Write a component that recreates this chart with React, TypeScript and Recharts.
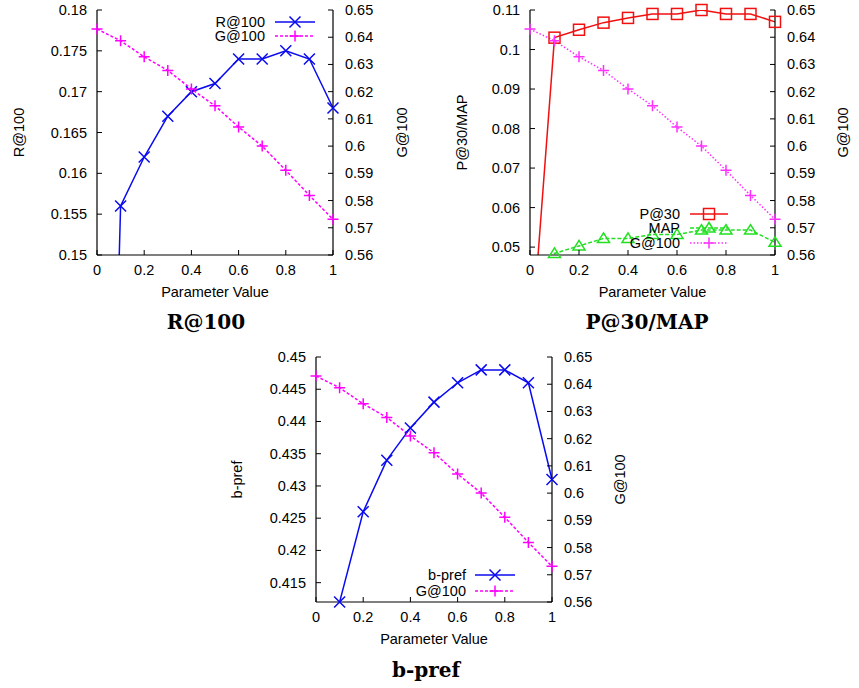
import React from 'react';
import { LineChart, Line, XAxis, YAxis, Legend } from 'recharts';

// ---------- data ----------
const paramValues = [0, 0.1, 0.2, 0.3, 0.4, 0.5, 0.6, 0.7, 0.8, 0.9, 1];
const xTicks = [0, 0.2, 0.4, 0.6, 0.8, 1];
const gAt100 = [0.643, 0.6387, 0.6328, 0.6278, 0.621, 0.6148, 0.607, 0.6, 0.5911, 0.5819, 0.5731];
const rAt100 = [0.05, 0.156, 0.162, 0.167, 0.17, 0.171, 0.174, 0.174, 0.175, 0.174, 0.168];
const pAt30 = [0.021, 0.103, 0.105, 0.1068, 0.108, 0.109, 0.109, 0.11, 0.109, 0.109, 0.107];
const mapValues = [0.02, 0.0484, 0.0503, 0.0522, 0.0522, 0.0532, 0.0532, 0.0543, 0.0543, 0.0543, 0.0512];
const bPref = [0.35, 0.412, 0.426, 0.434, 0.439, 0.443, 0.446, 0.448, 0.448, 0.446, 0.431];
const rTicks = [0.15, 0.155, 0.16, 0.165, 0.17, 0.175, 0.18];
const pTicks = [0.05, 0.06, 0.07, 0.08, 0.09, 0.1, 0.11];
const bTicks = [0.415, 0.42, 0.425, 0.43, 0.435, 0.44, 0.445, 0.45];
const gTicks = [0.56, 0.57, 0.58, 0.59, 0.6, 0.61, 0.62, 0.63, 0.64, 0.65];
const gDomain: [number, number] = [0.56, 0.65];

// ---------- styling ----------
const FONT = '"Liberation Sans", Arial, sans-serif';
const FS = 14.5;
const BLUE = '#0a0af0';
const MAGENTA = '#ff00ff';
const RED = '#f01010';
const GREEN = '#20e020';

type MarkerType = 'x' | 'plus' | 'square' | 'triangle';

type Series = {
  key: string;
  name: string;
  values: number[];
  color: string;
  dash?: string;
  marker: MarkerType;
  axis: 'L' | 'R';
};

function Glyph({ cx, cy, marker, color }: { cx: number; cy: number; marker: MarkerType; color: string }) {
  const s = 5.5;
  const common = { stroke: color, strokeWidth: 1.5, fill: 'none' };
  if (marker === 'x')
    return <path d={`M${cx - s},${cy - s}L${cx + s},${cy + s}M${cx - s},${cy + s}L${cx + s},${cy - s}`} {...common} />;
  if (marker === 'plus')
    return <path d={`M${cx - s},${cy}L${cx + s},${cy}M${cx},${cy - s}L${cx},${cy + s}`} {...common} />;
  if (marker === 'square')
    return <rect x={cx - s} y={cy - s} width={2 * s} height={2 * s} {...common} />;
  return <path d={`M${cx},${cy - 5.5}L${cx + 6},${cy + 4}L${cx - 6},${cy + 4}Z`} {...common} />;
}

const markerDot = (marker: MarkerType, color: string) => (props: any) => {
  const { cx, cy, index } = props;
  if (cx == null || cy == null || !isFinite(cx) || !isFinite(cy)) return <g key={`m-${index}`} />;
  return (
    <g key={`m-${index}`}>
      <Glyph cx={cx} cy={cy} marker={marker} color={color} />
    </g>
  );
};

const fmt = (v: number) => String(v);

const tickFn = (side: 'left' | 'right' | 'bottom' | 'top') => (props: any) => {
  const { x, y, payload, index } = props;
  const L = 5;
  const textStyle = { fontFamily: FONT, fontSize: FS, fill: '#000' };
  if (side === 'left')
    return (
      <g key={`t-${index}`}>
        <line x1={x} x2={x + L} y1={y} y2={y} stroke="#000" strokeWidth={1} />
        <text x={x - 10} y={y} textAnchor="end" dominantBaseline="central" style={textStyle}>{fmt(payload.value)}</text>
      </g>
    );
  if (side === 'right')
    return (
      <g key={`t-${index}`}>
        <line x1={x} x2={x - L} y1={y} y2={y} stroke="#000" strokeWidth={1} />
        <text x={x + 12} y={y} textAnchor="start" dominantBaseline="central" style={textStyle}>{fmt(payload.value)}</text>
      </g>
    );
  if (side === 'bottom')
    return (
      <g key={`t-${index}`}>
        <line x1={x} x2={x} y1={y} y2={y - L} stroke="#000" strokeWidth={1} />
        <text x={x} y={y + 15} textAnchor="middle" dominantBaseline="central" style={textStyle}>{fmt(payload.value)}</text>
      </g>
    );
  return (
    <g key={`t-${index}`}>
      <line x1={x} x2={x} y1={y} y2={y + L} stroke="#000" strokeWidth={1} />
    </g>
  );
};

type ChartCfg = {
  left: number;
  top: number;
  width: number;
  height: number;
  marginTop: number;
  marginBottom: number;
  leftWidth: number;
  rightWidth: number;
  xAxisHeight: number;
  leftDomain: [number, number];
  leftTicks: number[];
  leftLabel: string;
  leftLabelDx: number;
  rightLabelDx: number;
  series: Series[];
  legend: { textRight: number; x1: number; x2: number; rows: number[] };
  title: string;
  titleX: number;
  titleY: number;
};

const axisLine = { stroke: '#000', strokeWidth: 1.2 };

function Panel({ cfg }: { cfg: ChartCfg }) {
  const inDomain = (v: number, d: [number, number]) => v >= d[0] - 1e-9 && v <= d[1] + 1e-9;
  const rows = paramValues.map((x, i) => {
    const row: any = { x };
    cfg.series.forEach((s) => {
      const d = s.axis === 'L' ? cfg.leftDomain : gDomain;
      row[s.key] = s.values[i];
      row[s.key + '_m'] = inDomain(s.values[i], d) ? s.values[i] : null;
    });
    return row;
  });

  const legendContent = () => (
    <svg width={cfg.width} height={cfg.height} style={{ position: 'absolute', left: 0, top: 0, overflow: 'visible' }}>
      {cfg.series.map((s, i) => {
        const y = cfg.legend.rows[i];
        const mx = (cfg.legend.x1 + cfg.legend.x2) / 2;
        return (
          <g key={s.key}>
            <text x={cfg.legend.textRight} y={y} textAnchor="end" dominantBaseline="central" style={{ fontFamily: FONT, fontSize: FS, fill: '#000' }}>
              {s.name}
            </text>
            <line x1={cfg.legend.x1} x2={cfg.legend.x2} y1={y} y2={y} stroke={s.color} strokeWidth={1.5} strokeDasharray={s.dash} />
            <Glyph cx={mx} cy={y} marker={s.marker} color={s.color} />
          </g>
        );
      })}
    </svg>
  );

  return (
    <div style={{ position: 'absolute', left: cfg.left, top: cfg.top, width: cfg.width, height: cfg.height }}>
      <LineChart
        width={cfg.width}
        height={cfg.height}
        data={rows}
        margin={{ top: cfg.marginTop, right: 0, bottom: cfg.marginBottom, left: 0 }}
      >
        <XAxis
          dataKey="x"
          type="number"
          domain={[0, 1]}
          ticks={xTicks}
          interval={0}
          height={cfg.xAxisHeight}
          tickSize={0}
          tickMargin={0}
          tickLine={false}
          axisLine={axisLine}
          tick={tickFn('bottom')}
          label={(p: any) => {
            const vb = p.viewBox || {};
            return (
              <text
                x={vb.x + vb.width / 2}
                y={vb.y + 37}
                textAnchor="middle"
                dominantBaseline="central"
                style={{ fontFamily: FONT, fontSize: FS, fill: '#000' }}
              >
                Parameter Value
              </text>
            );
          }}
        />
        <XAxis
          xAxisId="top"
          dataKey="x"
          type="number"
          orientation="top"
          domain={[0, 1]}
          ticks={xTicks}
          interval={0}
          height={0}
          tickSize={0}
          tickMargin={0}
          tickLine={false}
          axisLine={axisLine}
          tick={tickFn('top')}
        />
        <YAxis
          yAxisId="L"
          orientation="left"
          type="number"
          width={cfg.leftWidth}
          domain={cfg.leftDomain}
          allowDataOverflow
          ticks={cfg.leftTicks}
          interval={0}
          tickSize={0}
          tickMargin={0}
          tickLine={false}
          axisLine={axisLine}
          tick={tickFn('left')}
          label={(p: any) => {
            const vb = p.viewBox || {};
            const cx = vb.x + cfg.leftLabelDx;
            const cy = vb.y + vb.height / 2;
            return (
              <text
                x={cx}
                y={cy}
                transform={`rotate(-90 ${cx} ${cy})`}
                textAnchor="middle"
                dominantBaseline="central"
                style={{ fontFamily: FONT, fontSize: FS, fill: '#000' }}
              >
                {cfg.leftLabel}
              </text>
            );
          }}
        />
        <YAxis yAxisId="LM" hide type="number" domain={cfg.leftDomain} />
        <YAxis
          yAxisId="R"
          orientation="right"
          type="number"
          width={cfg.rightWidth}
          domain={gDomain}
          ticks={gTicks}
          interval={0}
          tickSize={0}
          tickMargin={0}
          tickLine={false}
          axisLine={axisLine}
          tick={tickFn('right')}
          label={(p: any) => {
            const vb = p.viewBox || {};
            const cx = vb.x + cfg.rightLabelDx;
            const cy = vb.y + vb.height / 2;
            return (
              <text
                x={cx}
                y={cy}
                transform={`rotate(-90 ${cx} ${cy})`}
                textAnchor="middle"
                dominantBaseline="central"
                style={{ fontFamily: FONT, fontSize: FS, fill: '#000' }}
              >
                G@100
              </text>
            );
          }}
        />
        {cfg.series.map((s) => (
          <Line
            key={s.key}
            yAxisId={s.axis}
            dataKey={s.key}
            name={s.name}
            type="linear"
            stroke={s.color}
            strokeWidth={1.5}
            strokeDasharray={s.dash}
            dot={false}
            activeDot={false}
            isAnimationActive={false}
          />
        ))}
        {cfg.series.map((s) => (
          <Line
            key={s.key + '_m'}
            yAxisId={s.axis === 'L' ? 'LM' : 'R'}
            dataKey={s.key + '_m'}
            type="linear"
            stroke="none"
            strokeWidth={0}
            legendType="none"
            dot={markerDot(s.marker, s.color)}
            activeDot={false}
            isAnimationActive={false}
          />
        ))}
        <Legend
          verticalAlign="middle"
          align="center"
          layout="horizontal"
          wrapperStyle={{ left: 0, top: 0, width: cfg.width, height: cfg.height, pointerEvents: 'none' }}
          content={legendContent}
        />
      </LineChart>
    </div>
  );
}

const chart1: ChartCfg = {
  left: 0,
  top: 0,
  width: 430,
  height: 300,
  marginTop: 10,
  marginBottom: 0,
  leftWidth: 97,
  rightWidth: 97,
  xAxisHeight: 45,
  leftDomain: [0.15, 0.18],
  leftTicks: rTicks,
  leftLabel: 'R@100',
  leftLabelDx: 19,
  rightLabelDx: 69,
  series: [
    { key: 'r', name: 'R@100', values: rAt100, color: BLUE, marker: 'x', axis: 'L' },
    { key: 'g', name: 'G@100', values: gAt100, color: MAGENTA, dash: '3 2', marker: 'plus', axis: 'R' },
  ],
  legend: { textRight: 265, x1: 275, x2: 315, rows: [22, 36] },
  title: 'R@100',
  titleX: 206,
  titleY: 322,
};

const chart2: ChartCfg = {
  left: 430,
  top: 0,
  width: 429,
  height: 300,
  marginTop: 10,
  marginBottom: 0,
  leftWidth: 100,
  rightWidth: 84,
  xAxisHeight: 45,
  leftDomain: [0.048, 0.11],
  leftTicks: pTicks,
  leftLabel: 'P@30/MAP',
  leftLabelDx: 32,
  rightLabelDx: 68,
  series: [
    { key: 'p', name: 'P@30', values: pAt30, color: RED, marker: 'square', axis: 'L' },
    { key: 'm', name: 'MAP', values: mapValues, color: GREEN, dash: '4 2', marker: 'triangle', axis: 'L' },
    { key: 'g', name: 'G@100', values: gAt100, color: '#ff30ff', dash: '1.5 2', marker: 'plus', axis: 'R' },
  ],
  legend: { textRight: 250, x1: 260, x2: 298, rows: [214, 228, 243] },
  title: 'P@30/MAP',
  titleX: 647,
  titleY: 322,
};

const chart3: ChartCfg = {
  left: 220,
  top: 340,
  width: 420,
  height: 312,
  marginTop: 17,
  marginBottom: 12,
  leftWidth: 96,
  rightWidth: 88,
  xAxisHeight: 38,
  leftDomain: [0.412, 0.45],
  leftTicks: bTicks,
  leftLabel: 'b-pref',
  leftLabelDx: 17,
  rightLabelDx: 68,
  series: [
    { key: 'b', name: 'b-pref', values: bPref, color: BLUE, marker: 'x', axis: 'L' },
    { key: 'g', name: 'G@100', values: gAt100, color: MAGENTA, dash: '3 2', marker: 'plus', axis: 'R' },
  ],
  legend: { textRight: 246, x1: 255, x2: 295, rows: [235, 251] },
  title: 'b-pref',
  titleX: 426,
  titleY: 670,
};

const charts = [chart1, chart2, chart3];

export default function App() {
  return (
    <div style={{ position: 'absolute', left: 0, top: 0, width: 859, height: 688, background: '#fff' }}>
      {charts.map((c) => (
        <Panel key={c.title} cfg={c} />
      ))}
      {charts.map((c) => (
        <div
          key={'title-' + c.title}
          style={{
            position: 'absolute',
            left: c.titleX - 100,
            top: c.titleY - 13,
            width: 200,
            height: 26,
            lineHeight: '26px',
            textAlign: 'center',
            fontFamily: '"DejaVu Serif", serif',
            fontWeight: 'bold',
            fontSize: 20,
            color: '#000',
          }}
        >
          {c.title}
        </div>
      ))}
    </div>
  );
}
